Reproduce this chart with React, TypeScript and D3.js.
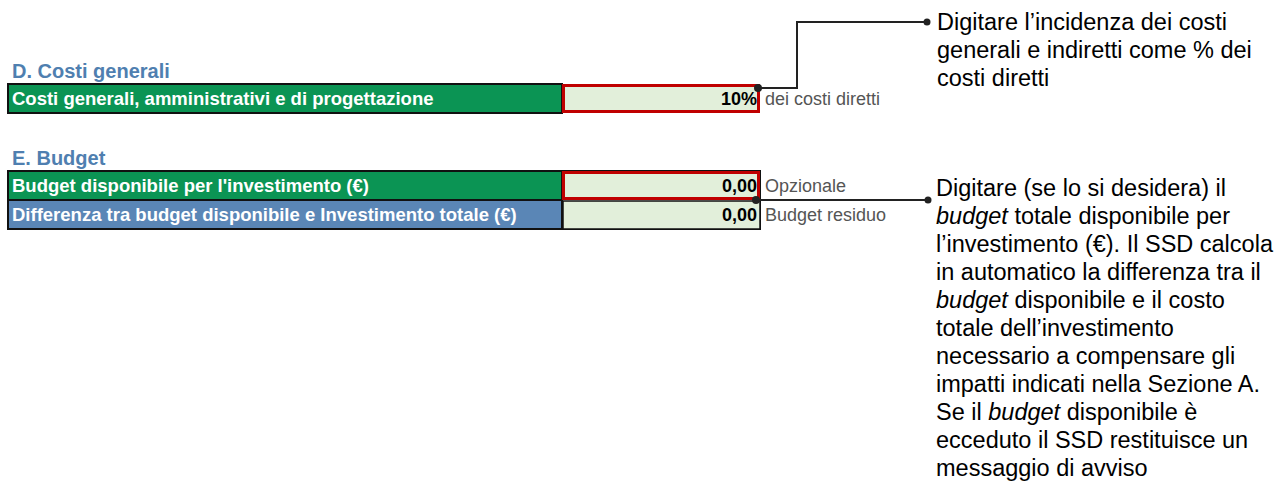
import React from "react";
import * as d3 from "d3";

const sectionTitles = ["D. Costi generali", "E. Budget"];
const rowLabels = [
  "Costi generali, amministrativi e di progettazione",
  "Budget disponibile per l'investimento (€)",
  "Differenza tra budget disponibile e Investimento totale (€)",
];
const rowValues = ["10%", "0,00", "0,00"];
const rowNotes = ["dei costi diretti", "Opzionale", "Budget residuo"];
const rowKinds = ["input", "input", "output"];
const annotation1 = [
  "Digitare l’incidenza dei costi",
  "generali e indiretti come % dei",
  "costi diretti",
];
const annotation2 = [
  "Digitare (se lo si desidera) il",
  "*budget* totale disponibile per",
  "l’investimento (€). Il SSD calcola",
  "in automatico la differenza tra il",
  "*budget* disponibile e il costo",
  "totale dell’investimento",
  "necessario a compensare gli",
  "impatti indicati nella Sezione A.",
  "Se il *budget* disponibile è",
  "ecceduto il SSD restituisce un",
  "messaggio di avviso",
];

const W = 1276;
const H = 484;
const FONT = "'Liberation Sans', Arial, Helvetica, sans-serif";
const GREEN = "#0b9454";
const BLUE = "#5a86b6";
const TITLE = "#4f7fb0";
const CELL = "#e2efda";
const RED = "#c00000";

// slot scale: vertical layout of spreadsheet rows
const slot = d3.scaleLinear().domain([0, 1]).range([55, 84]);
const col = d3.scaleOrdinal<string, number>().domain(["left", "value", "right", "note"]).range([8, 562, 760, 765]);
const titleSlots = [0, 3];
const rowSlots = [1, 4, 5];
const rowH = slot(1) - slot(0);

const ann1Y = d3.scaleLinear().domain([0, 1]).range([30, 58]);
const ann2Y = d3.scaleLinear().domain([0, 1]).range([196, 224]);

function segs(line: string) {
  return line.split("*").map((t, i) => ({ t, italic: i % 2 === 1 })).filter((s) => s.t.length);
}

export default function App() {
  const lineGen = d3.line<[number, number]>().x((d) => d[0]).y((d) => d[1]);
  const r1Top = slot(rowSlots[0]);
  const r2Top = slot(rowSlots[1]);
  const conn1: [number, number][] = [
    [col("right") - 2, r1Top + 4],
    [797, r1Top + 4],
    [797, 22],
    [927, 22],
  ];
  const conn2: [number, number][] = [
    [col("right") - 4, r2Top + rowH],
    [928, r2Top + rowH],
  ];
  return (
    <svg
      width={W}
      height={H}
      style={{ position: "absolute", left: 0, top: 0, background: "#fff" }}
      fontFamily={FONT}
    >
      <rect x={0} y={0} width={W} height={H} fill="#fff" />
      {sectionTitles.map((t, i) => (
        <text key={t} x={12} y={slot(titleSlots[i]) + 23} fontSize={20} fontWeight="bold" fill={TITLE}>
          {t}
        </text>
      ))}
      {/* outer border for budget block */}
      <rect
        x={col("left")}
        y={slot(rowSlots[1])}
        width={col("right") - col("left")}
        height={rowH * 2}
        fill="none"
        stroke="#111"
        strokeWidth={2}
      />
      {rowLabels.map((lab, i) => {
        const y0 = slot(rowSlots[i]);
        const isOut = rowKinds[i] === "output";
        return (
          <g key={lab}>
            <rect
              x={col("left")}
              y={y0}
              width={col("value") - col("left")}
              height={rowH}
              fill={isOut ? BLUE : GREEN}
              stroke="#111"
              strokeWidth={2}
            />
            <text x={12} y={y0 + 21} fontSize={18.5} fontWeight="bold" fill="#fff">
              {lab}
            </text>
          </g>
        );
      })}
      {rowLabels.map((lab, i) => {
        const y0 = slot(rowSlots[i]);
        const isOut = rowKinds[i] === "output";
        return (
          <g key={lab + "v"}>
            <rect
              x={col("value") + (isOut ? 1 : 1.5)}
              y={y0 + (isOut ? 1 : 1.5)}
              width={col("right") - col("value") - (isOut ? 1 : 3)}
              height={rowH - (isOut ? 1 : 3)}
              fill={CELL}
              stroke={isOut ? "#111" : RED}
              strokeWidth={isOut ? 1.5 : 3}
            />
            <text x={col("right") - 3} y={y0 + 21} fontSize={18} fontWeight="bold" fill="#000" textAnchor="end">
              {rowValues[i]}
            </text>
            <text x={col("note")} y={y0 + 21} fontSize={18} fill="#555">
              {rowNotes[i]}
            </text>
          </g>
        );
      })}
      <path d={lineGen(conn1) || ""} fill="none" stroke="#222" strokeWidth={2} />
      <circle cx={conn1[0][0]} cy={conn1[0][1]} r={4} fill="#222" />
      <circle cx={conn1[3][0]} cy={conn1[3][1]} r={3.5} fill="#222" />
      <path d={lineGen(conn2) || ""} fill="none" stroke="#222" strokeWidth={2} />
      <circle cx={conn2[0][0]} cy={conn2[0][1]} r={4} fill="#222" />
      <circle cx={conn2[1][0]} cy={conn2[1][1]} r={3.5} fill="#222" />
      {annotation1.map((l, i) => (
        <text key={"a1" + i} x={937} y={ann1Y(i)} fontSize={23.5} fill="#000">
          {l}
        </text>
      ))}
      {annotation2.map((l, i) => (
        <text key={"a2" + i} x={936} y={ann2Y(i)} fontSize={23.5} fill="#000">
          {segs(l).map((s, j) => (
            <tspan key={j} fontStyle={s.italic ? "italic" : "normal"}>
              {s.t}
            </tspan>
          ))}
        </text>
      ))}
    </svg>
  );
}
